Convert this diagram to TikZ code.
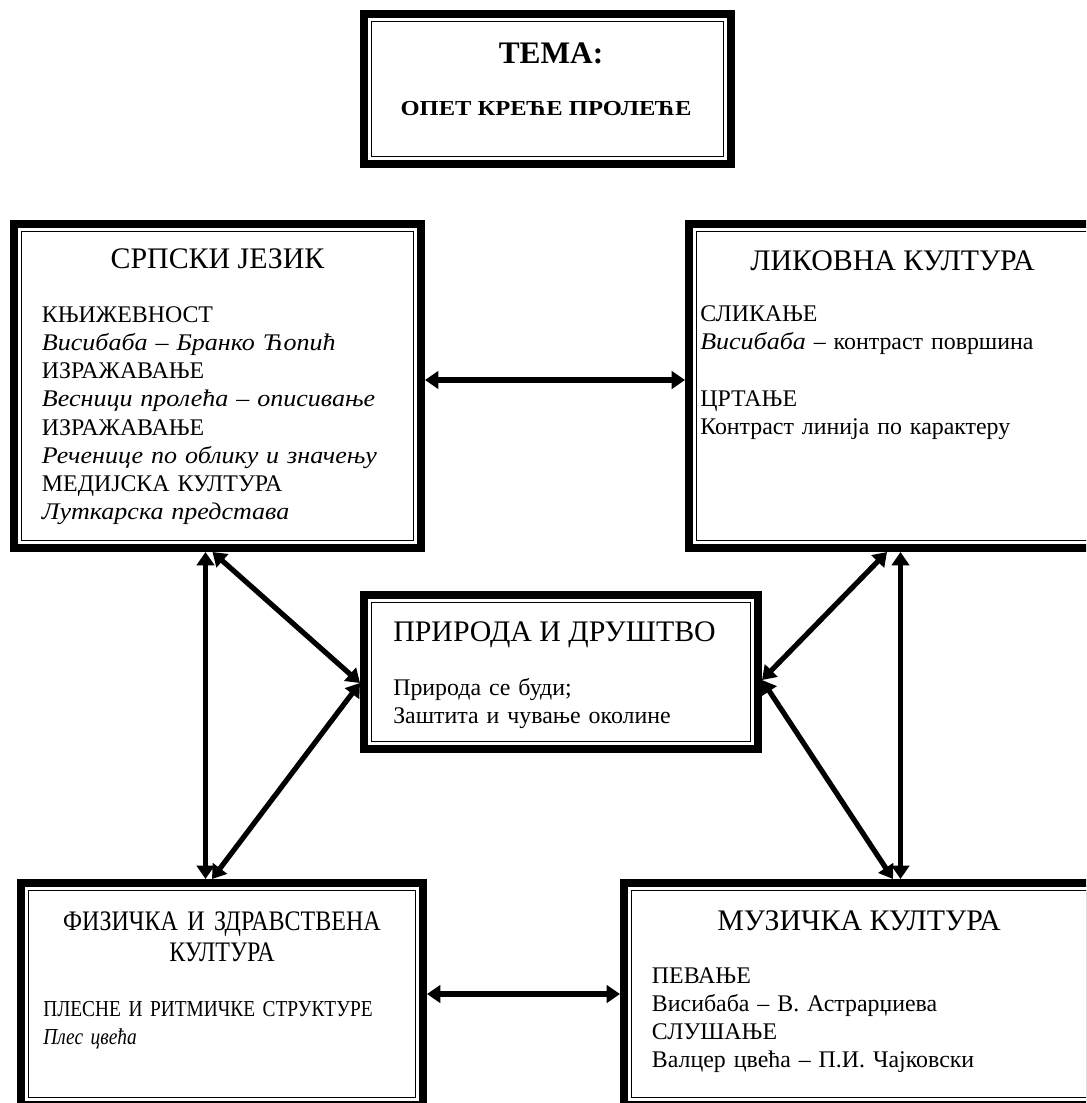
\documentclass[tikz,border=0pt]{standalone}
\usepackage{fontspec}
\setmainfont{Liberation Serif}[ItalicFeatures={FakeStretch=1.09}]
\newfontfamily\widebold{Liberation Serif}[FakeStretch=1.15]
\newfontfamily\narrowserif{Liberation Serif}[FakeStretch=0.85]
\usetikzlibrary{arrows.meta}

\tikzset{
  subjbox/.style={draw, line width=6pt, inner sep=0pt, outer sep=3pt},
  link/.style={line width=3.9pt,
    {Triangle[length=10pt,width=13pt]}-{Triangle[length=10pt,width=13pt]}},
  head/.style={anchor=base, inner sep=0pt, font=\fontsize{22.4}{26}\selectfont},
  body/.style={anchor=base west, inner sep=0pt, text width=340pt, align=left,
    font=\fontsize{17.9}{21.15}\selectfont}
}

\begin{document}
\begin{tikzpicture}[x=0.75pt, y=-0.75pt]
  \path[use as bounding box] (0,0) rectangle (1086,1103);
  \clip (0,0) rectangle (1086,1103);

  \node[subjbox, minimum width=275.25pt, minimum height=112.5pt] (tema) at (547.5,89) {};
  \node[subjbox, minimum width=305.25pt, minimum height=243pt] (srp) at (217.5,386) {};
  \node[subjbox, minimum width=305.25pt, minimum height=243pt] (lik) at (892.5,386) {};
  \node[subjbox, minimum width=295.5pt, minimum height=115.5pt] (pri) at (561,672) {};
  \node[subjbox, minimum width=301.5pt, minimum height=166.5pt] (fiz) at (222,994) {};
  \node[subjbox, minimum width=352.5pt, minimum height=166.5pt] (muz) at (859,994) {};
  \foreach \b in {tema,srp,lik,pri,fiz,muz}
    \draw[line width=1.1pt] ([shift={(11.5,11.5)}]\b.north west) rectangle ([shift={(-11.5,-11.5)}]\b.south east);

  \node[anchor=base, inner sep=0pt, font=\bfseries\fontsize{23.5}{28}\selectfont] (tema-t) at (551,63) {ТЕМА:};
  \node[anchor=base, inner sep=0pt, font=\widebold\bfseries\fontsize{16}{19}\selectfont] (tema-s) at (546,115) {ОПЕТ КРЕЋЕ ПРОЛЕЋЕ};

  \node[head] (srp-t) at (217.5,268) {СРПСКИ ЈЕЗИК};
  \node[body] (srp-b) at (41.7,322.3) {КЊИЖЕВНОСТ\\
    \textit{Висибаба – Бранко Ћопић}\\
    ИЗРАЖАВАЊЕ\\
    \textit{Весници пролећа – описивање}\\
    ИЗРАЖАВАЊЕ\\
    \textit{Реченице по облику и значењу}\\
    МЕДИЈСКА КУЛТУРА\\
    \textit{Луткарска представа}};

  \node[head] (lik-t) at (892.5,270) {ЛИКОВНА КУЛТУРА};
  \node[body] (lik-b) at (700,321.7) {СЛИКАЊЕ\\
    \textit{Висибаба} – контраст површина\\[21.15pt]
    ЦРТАЊЕ\\
    Контраст линија по карактеру};

  \node[head, anchor=base west] (pri-t) at (393,641.7) {ПРИРОДА И ДРУШТВО};
  \node[body] (pri-b) at (393,695) {Природа се буди;\\
    Заштита и чување околине};

  \node[head, text width=320pt, align=center, font=\narrowserif\fontsize{21.2}{23.8}\selectfont] (fiz-t) at (222,930) {ФИЗИЧКА И ЗДРАВСТВЕНА\\ КУЛТУРА};
  \node[body, font=\narrowserif\fontsize{17.1}{21.15}\selectfont] (fiz-b) at (43,1016.7) {ПЛЕСНЕ И РИТМИЧКЕ СТРУКТУРЕ\\
    \textit{Плес цвећа}};

  \node[head] (muz-t) at (859,930) {МУЗИЧКА КУЛТУРА};
  \node[body] (muz-b) at (651.7,983.3) {ПЕВАЊЕ\\
    Висибаба – В. Астрарџиева\\
    СЛУШАЊЕ\\
    Валцер цвећа – П.И. Чајковски};

  \coordinate (srp-e) at ([shift={(0,-6)}]srp.east);
  \coordinate (srp-l) at ([shift={(-12,0)}]srp.south);
  \coordinate (srp-r) at ([shift={(-5,0)}]srp.south);
  \coordinate (lik-l) at ([shift={(-5.5,0)}]lik.south);
  \coordinate (lik-r) at ([shift={(8,0)}]lik.south);
  \coordinate (pri-w) at ([shift={(0,11)}]pri.west);
  \coordinate (pri-e) at ([shift={(0,8)}]pri.east);
  \coordinate (fiz-r) at ([shift={(-10,0)}]fiz.north);
  \coordinate (muz-l) at ([shift={(34,0)}]muz.north);

  \draw[link] (srp-e) -- (lik.west |- srp-e);
  \draw[link] (fiz.east) -- (muz.west);
  \draw[link] (srp-l) -- (srp-l |- fiz.north);
  \draw[link] (srp-r) -- (pri-w);
  \draw[link] (pri-w) -- (fiz-r);
  \draw[link] (lik-r) -- (lik-r |- muz.north);
  \draw[link] (lik-l) -- (pri-e);
  \draw[link] (pri-e) -- (muz-l);
\end{tikzpicture}
\end{document}
